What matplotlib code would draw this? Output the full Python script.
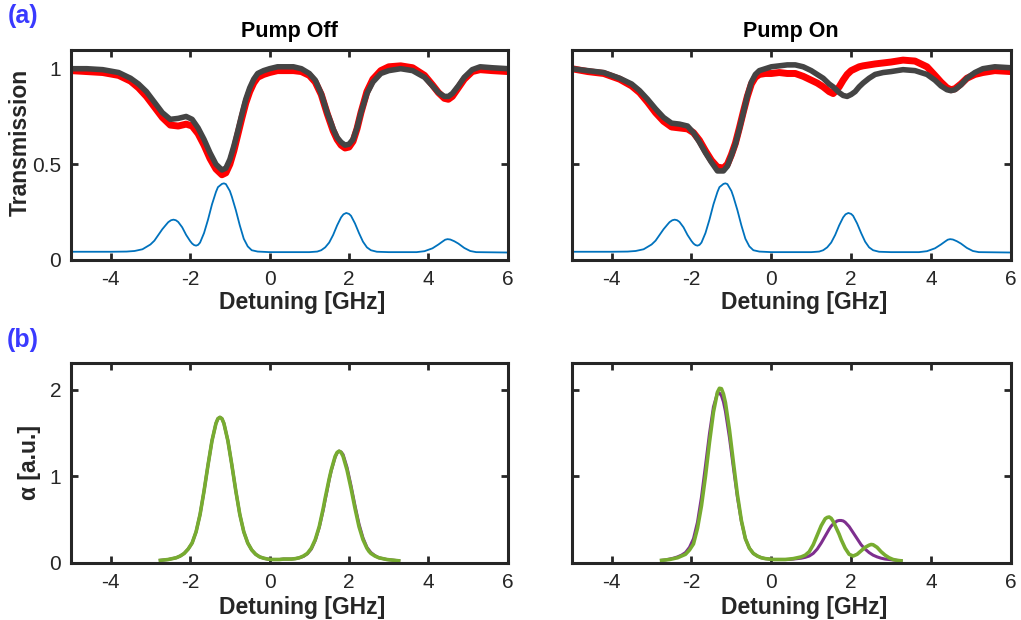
import matplotlib.pyplot as plt

plt.rcParams['font.family'] = ['Liberation Sans', 'DejaVu Sans']

# Transmission traces (detuning in GHz)
trans_x = [-5.0, -4.6, -4.2, -3.8, -3.5, -3.3, -3.1, -2.9, -2.7, -2.5, -2.3, -2.1, -1.95,
           -1.8, -1.65, -1.5, -1.35, -1.2, -1.1, -1.0, -0.9, -0.8, -0.7, -0.6, -0.5, -0.4,
           -0.3, -0.15, 0.0, 0.2, 0.4, 0.6, 0.8, 1.0, 1.15, 1.3, 1.45, 1.55, 1.6, 1.7, 1.8,
           1.9, 2.0, 2.1, 2.2, 2.3, 2.45, 2.6, 2.8, 3.0, 3.3, 3.6, 3.9, 4.1, 4.25, 4.4, 4.5,
           4.6, 4.75, 4.9, 5.1, 5.3, 5.6, 6.0]
off_gray = [1.0, 1.0, 0.995, 0.98, 0.95, 0.92, 0.88, 0.825, 0.77, 0.735, 0.74, 0.75, 0.735,
            0.69, 0.63, 0.56, 0.50, 0.47, 0.48, 0.525, 0.595, 0.675, 0.76, 0.84, 0.90, 0.945,
            0.975, 0.99, 1.0, 1.01, 1.01, 1.01, 1.0, 0.975, 0.94, 0.87, 0.77, 0.715, 0.685, 0.64, 0.615,
            0.60, 0.605, 0.63, 0.69, 0.77, 0.87, 0.93, 0.975, 0.99, 1.0, 0.99, 0.955, 0.91, 0.875, 0.855, 0.855,
            0.87, 0.91, 0.955, 0.995, 1.01, 1.005, 1.0]
off_red = [0.99, 0.985, 0.98, 0.965, 0.935, 0.90, 0.855, 0.80, 0.745, 0.705, 0.70, 0.71, 0.70,
           0.66, 0.60, 0.53, 0.475, 0.445, 0.455, 0.50, 0.57, 0.655, 0.74, 0.82, 0.88, 0.925,
           0.955, 0.97, 0.98, 0.99, 0.99, 0.99, 0.985, 0.965, 0.93, 0.865, 0.765, 0.705, 0.675, 0.63, 0.60,
           0.585, 0.59, 0.62, 0.685, 0.77, 0.88, 0.945, 0.99, 1.01, 1.015, 1.005, 0.965, 0.915, 0.875, 0.845, 0.84,
           0.855, 0.90, 0.945, 0.985, 0.995, 0.99, 0.985]
on_gray = [1.0, 0.99, 0.98, 0.95, 0.92, 0.885, 0.84, 0.79, 0.745, 0.715, 0.71, 0.70, 0.665,
           0.615, 0.56, 0.51, 0.465, 0.465, 0.49, 0.545, 0.605, 0.685, 0.77, 0.86, 0.93, 0.97,
           0.99, 1.0, 1.01, 1.015, 1.02, 1.02, 1.01, 0.99, 0.97, 0.95, 0.92, 0.905, 0.895, 0.875, 0.86,
           0.855, 0.865, 0.88, 0.905, 0.925, 0.95, 0.97, 0.98, 0.985, 0.995, 0.99, 0.97, 0.94, 0.91, 0.89, 0.885,
           0.89, 0.915, 0.95, 0.98, 1.0, 1.01, 1.005]
on_red = [1.0, 0.985, 0.975, 0.945, 0.91, 0.875, 0.825, 0.77, 0.725, 0.695, 0.69, 0.685, 0.665,
          0.625, 0.57, 0.52, 0.485, 0.48, 0.50, 0.55, 0.61, 0.69, 0.775, 0.855, 0.92, 0.955,
          0.97, 0.975, 0.975, 0.98, 0.975, 0.975, 0.96, 0.94, 0.925, 0.905, 0.88, 0.87, 0.88, 0.905, 0.94,
          0.97, 0.99, 1.0, 1.01, 1.015, 1.02, 1.025, 1.03, 1.035, 1.045, 1.04, 1.01, 0.965, 0.93, 0.90, 0.89,
          0.895, 0.92, 0.95, 0.97, 0.98, 0.99, 0.985]

# Reference absorption profile (blue)
ref_x = [-5.0, -4.0, -3.6, -3.4, -3.2, -3.0, -2.9, -2.8, -2.7, -2.6, -2.55, -2.48, -2.42, -2.36,
         -2.3, -2.2, -2.1, -2.0, -1.95, -1.9, -1.85, -1.8, -1.75, -1.65, -1.55, -1.45, -1.35,
         -1.3, -1.2, -1.15, -1.1, -1.0, -0.95, -0.85, -0.75, -0.65, -0.55, -0.45, -0.3, 0.0, 1.0,
         1.2, 1.3, 1.4, 1.5, 1.6, 1.7, 1.8, 1.86, 1.93, 2.0, 2.05, 2.15, 2.25, 2.35, 2.45, 2.55,
         2.7, 3.0, 3.7, 3.9, 4.1, 4.25, 4.35, 4.42, 4.48, 4.55, 4.65, 4.75, 4.9, 5.05, 5.2, 6.0]
ref_y = [0.042, 0.042, 0.043, 0.046, 0.055, 0.08, 0.10, 0.13, 0.16, 0.185, 0.197, 0.207, 0.21, 0.207,
         0.198, 0.17, 0.13, 0.098, 0.085, 0.077, 0.074, 0.078, 0.09, 0.14, 0.21, 0.29, 0.355,
         0.38, 0.397, 0.40, 0.396, 0.36, 0.33, 0.26, 0.18, 0.11, 0.07, 0.05, 0.043, 0.04, 0.04,
         0.043, 0.05, 0.065, 0.09, 0.13, 0.18, 0.222, 0.238, 0.245, 0.24, 0.23, 0.19, 0.14, 0.095, 0.065, 0.05,
         0.042, 0.04, 0.04, 0.045, 0.06, 0.08, 0.095, 0.105, 0.108, 0.106, 0.097, 0.085, 0.062, 0.046, 0.04, 0.038]

# Absorption coefficient alpha
alpha_x = [-2.75, -2.65, -2.55, -2.45, -2.35, -2.25, -2.15, -2.05, -1.95, -1.85, -1.75, -1.65,
           -1.55, -1.45, -1.35, -1.3, -1.25, -1.2, -1.15, -1.05, -0.95, -0.85, -0.75, -0.65,
           -0.55, -0.45, -0.35, -0.25, -0.15, -0.05, 0.05, 0.15, 0.25, 0.35, 0.45, 0.55, 0.65,
           0.75, 0.85, 0.95, 1.05, 1.15, 1.25, 1.35, 1.4, 1.45, 1.5, 1.55, 1.65, 1.7, 1.75, 1.8,
           1.85, 1.95, 2.05, 2.15, 2.25, 2.35, 2.45, 2.5, 2.55, 2.65, 2.75, 2.85, 2.95, 3.05,
           3.15, 3.25]
off_green = [0.03, 0.035, 0.04, 0.05, 0.06, 0.08, 0.11, 0.16, 0.23, 0.36, 0.56, 0.83,
             1.13, 1.41, 1.61, 1.665, 1.68, 1.665, 1.61, 1.41, 1.13, 0.83, 0.56, 0.36,
             0.23, 0.15, 0.10, 0.07, 0.055, 0.045, 0.04, 0.04, 0.04, 0.045, 0.045, 0.045, 0.05,
             0.06, 0.08, 0.11, 0.17, 0.27, 0.42, 0.63, 0.75, 0.86, 0.97, 1.07, 1.23, 1.275, 1.29, 1.275,
             1.23, 1.07, 0.86, 0.63, 0.42, 0.27, 0.17, 0.135, 0.11, 0.08, 0.06, 0.05, 0.04, 0.035,
             0.03, 0.025]
off_purple = [0.03, 0.035, 0.04, 0.05, 0.06, 0.08, 0.11, 0.16, 0.23, 0.36, 0.56, 0.83,
              1.13, 1.41, 1.61, 1.665, 1.68, 1.665, 1.61, 1.41, 1.13, 0.83, 0.56, 0.36,
              0.23, 0.15, 0.10, 0.07, 0.055, 0.045, 0.04, 0.04, 0.04, 0.045, 0.045, 0.045, 0.05,
              0.06, 0.075, 0.105, 0.16, 0.26, 0.41, 0.61, 0.73, 0.84, 0.96, 1.06, 1.22, 1.27, 1.29, 1.28,
              1.25, 1.10, 0.89, 0.66, 0.45, 0.29, 0.18, 0.15, 0.12, 0.085, 0.06, 0.05, 0.04, 0.035,
              0.03, 0.025]
on_green = [0.03, 0.035, 0.04, 0.05, 0.06, 0.08, 0.10, 0.15, 0.22, 0.40, 0.66, 1.0,
            1.39, 1.74, 1.97, 2.015, 2.01, 1.95, 1.85, 1.54, 1.16, 0.79, 0.49, 0.28,
            0.17, 0.11, 0.08, 0.06, 0.05, 0.045, 0.04, 0.04, 0.04, 0.04, 0.045, 0.05, 0.06,
            0.07, 0.09, 0.13, 0.21, 0.32, 0.43, 0.51, 0.525, 0.53, 0.515, 0.48, 0.38, 0.33, 0.27, 0.22,
            0.17, 0.10, 0.08, 0.10, 0.14, 0.18, 0.205, 0.213, 0.21, 0.18, 0.13, 0.09, 0.06, 0.04,
            0.03, 0.025]
on_purple = [0.03, 0.035, 0.045, 0.055, 0.07, 0.09, 0.12, 0.18, 0.28, 0.47, 0.76, 1.12,
             1.49, 1.80, 1.96, 1.96, 1.93, 1.86, 1.75, 1.45, 1.10, 0.76, 0.48, 0.28,
             0.17, 0.11, 0.08, 0.06, 0.05, 0.045, 0.04, 0.04, 0.04, 0.04, 0.04, 0.045, 0.05,
             0.055, 0.065, 0.08, 0.11, 0.16, 0.23, 0.31, 0.35, 0.39, 0.425, 0.45, 0.485, 0.49, 0.49, 0.485,
             0.47, 0.42, 0.35, 0.28, 0.21, 0.16, 0.12, 0.105, 0.09, 0.07, 0.055, 0.045, 0.04, 0.035,
             0.03, 0.025]

titles = ['Pump Off', 'Pump On']
x_ticks = [-4, -2, 0, 2, 4, 6]

AX_COLOR = '#262626'
RED = '#ff0000'
GRAY = '#444444'
BLUE = '#0072BD'
PURPLE = '#7E2F8E'
GREEN = '#77AC30'
LABEL_SIZE = 16.5

fig = plt.figure(figsize=(10.21, 6.2), dpi=100)
top_axes = [fig.add_axes([0.0695, 0.581, 0.428, 0.339]),
            fig.add_axes([0.560, 0.581, 0.430, 0.339])]
bot_axes = [fig.add_axes([0.0695, 0.092, 0.428, 0.323]),
            fig.add_axes([0.560, 0.092, 0.430, 0.323])]


def style(ax):
    for sp in ax.spines.values():
        sp.set_linewidth(2.2)
        sp.set_color(AX_COLOR)
    ax.tick_params(direction='in', top=True, right=True, length=5, width=2,
                   colors=AX_COLOR, labelsize=15, pad=7)
    ax.set_xlim(-5, 6)
    ax.set_xticks(x_ticks)
    ax.set_xticklabels([str(t) for t in x_ticks])
    ax.set_xlabel('Detuning [GHz]', fontsize=LABEL_SIZE, fontweight='bold', color=AX_COLOR)


trans_sets = [(off_red, off_gray), (on_red, on_gray)]
for i, ax in enumerate(top_axes):
    red, gray = trans_sets[i]
    ax.plot(trans_x, red, color=RED, lw=5, solid_joinstyle='round')
    ax.plot(trans_x, gray, color=GRAY, lw=4, solid_joinstyle='round')
    ax.plot(ref_x, ref_y, color=BLUE, lw=1.3)
    style(ax)
    ax.set_ylim(0, 1.1)
    ax.set_yticks([0, 0.5, 1])
    ax.set_yticklabels(['0', '0.5', '1'] if i == 0 else [])
    ax.set_title(titles[i], fontsize=15.5, fontweight='bold', color='black', pad=9)
    ax.xaxis.set_label_coords(0.53, -0.15)

alpha_sets = [(off_purple, off_green), (on_purple, on_green)]
for i, ax in enumerate(bot_axes):
    purple, green = alpha_sets[i]
    ax.plot(alpha_x, purple, color=PURPLE, lw=2.2)
    ax.plot(alpha_x, green, color=GREEN, lw=2.6)
    style(ax)
    ax.set_ylim(0, 2.31)
    ax.set_yticks([0, 1, 2])
    ax.set_yticklabels(['0', '1', '2'] if i == 0 else [])
    ax.xaxis.set_label_coords(0.53, -0.165)

top_axes[0].set_ylabel('Transmission', fontsize=LABEL_SIZE, fontweight='bold', color=AX_COLOR)
top_axes[0].yaxis.set_label_coords(-0.09, 0.557)
bot_axes[0].set_ylabel('α [a.u.]', fontsize=LABEL_SIZE, fontweight='bold', color=AX_COLOR)
bot_axes[0].yaxis.set_label_coords(-0.068, 0.5)

fig.text(0.0225, 0.975, '(a)', color='#3a3aff', fontsize=18, fontweight='bold', ha='center', va='center')
fig.text(0.0225, 0.452, '(b)', color='#3a3aff', fontsize=18, fontweight='bold', ha='center', va='center')

plt.savefig('out.png', dpi=100)
